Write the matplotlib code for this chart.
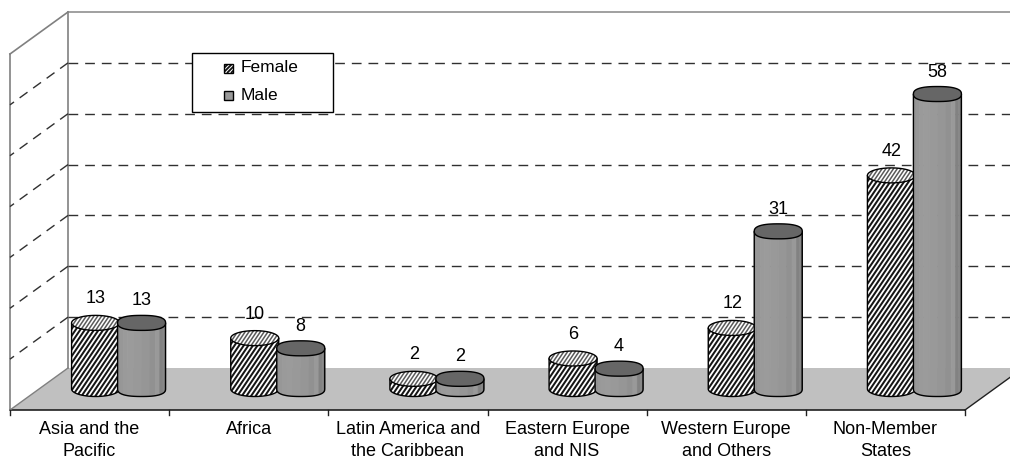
import numpy as np
import matplotlib
matplotlib.use("Agg")
import matplotlib.pyplot as plt
from matplotlib.patches import Polygon, Rectangle
from matplotlib.collections import LineCollection

plt.rcParams['font.family'] = ['Liberation Sans', 'DejaVu Sans']

categories = ["Asia and the\nPacific", "Africa", "Latin America and\nthe Caribbean",
              "Eastern Europe\nand NIS", "Western Europe\nand Others", "Non-Member\nStates"]
female = [13, 10, 2, 6, 12, 42]
male = [13, 8, 2, 4, 31, 58]
series_names = ["Female", "Male"]
y_ticks = [0, 10, 20, 30, 40, 50, 60]
y_max = 70

W, H = 1010, 462
fig = plt.figure(figsize=(W / 100, H / 100), dpi=100)
ax = fig.add_axes([0, 0, 1, 1])
ax.set_xlim(0, W)
ax.set_ylim(H, 0)
ax.axis('off')

# oblique 3-D frame (pixel space)
x0, x1 = 10, 965            # front edge of the floor
yf = 410                    # front floor line
dx, dy = 58, -42            # depth offset
yb = yf + dy                # back floor line
xb0 = x0 + dx
top_y = 12
unit = (yb - top_y) / y_max  # pixels per value unit


def vy(v, base):
    return base - v * unit


# floor
ax.add_patch(Polygon([(x0, yf), (xb0, yb), (x1 + dx, yb), (x1, yf)], closed=True,
                     facecolor='#c0c0c0', edgecolor='none', zorder=1))
ax.plot([x0, x1], [yf, yf], color='#202020', lw=1.2, zorder=2)
ax.plot([x1, x1 + dx], [yf, yb], color='#202020', lw=1.0, zorder=2)
ax.plot([x0, xb0], [yf, yb], color='#808080', lw=1.0, zorder=2)

# walls
ax.plot([xb0, xb0], [yb, top_y], color='#808080', lw=1.2, zorder=2)
ax.plot([xb0, W + 5], [top_y, top_y], color='#909090', lw=1.2, zorder=2)
ax.plot([x0, x0], [yf, top_y - dy], color='#808080', lw=1.2, zorder=2)
ax.plot([x0, xb0], [top_y - dy, top_y], color='#808080', lw=1.2, zorder=2)

# gridlines on back and side wall
for t in y_ticks[1:]:
    gy = vy(t, yb)
    ax.plot([xb0, W + 5], [gy, gy], color='#303030', lw=1.0, ls=(0, (7, 5)), zorder=2)
    ax.plot([xb0, x0], [gy, gy - dy], color='#303030', lw=1.0, ls=(0, (7, 5)), zorder=2)

# category ticks and labels
n = len(categories)
cw = (x1 - x0) / n
for i in range(n + 1):
    tx = x0 + i * cw
    ax.plot([tx, tx], [yf, yf + 5], color='#202020', lw=1.0, zorder=2)
for i, lab in enumerate(categories):
    cx = x0 + (i + 0.5) * cw
    ax.text(cx, yf + 11, lab, ha='center', va='top', fontsize=13,
            linespacing=1.4, color='black', zorder=5)

bw = 48       # cylinder width
ry = 7.5      # half height of the top ellipse
base_y = yf + dy / 2
shift = 23


def ring(cx, cy, t0, t1, num=40, p=2.0):
    t = np.linspace(t0, t1, num)
    c, s = np.cos(t), np.sin(t)
    xs = np.sign(c) * np.abs(c) ** (2 / p)
    ys = np.sign(s) * np.abs(s) ** (2 / p)
    return np.column_stack([cx + bw / 2 * xs, cy + ry * ys])


def hatch_lines(patch, xmin, xmax, ymin, ymax, step, color, lw, z, angle=56):
    # slanted stripes, clipped to the given patch
    k = 1.0 / np.tan(np.radians(angle))
    span = (ymax - ymin) * k
    starts = np.arange(xmin - span - step, xmax + step, step)
    segs = [[(s, ymax), (s + span, ymin)] for s in starts]
    lc = LineCollection(segs, colors=color, linewidths=lw, zorder=z)
    ax.add_collection(lc)
    lc.set_clip_path(patch)


def female_bar(cx, v, z):
    top = vy(v, base_y)
    body = np.vstack([[cx - bw / 2, top], ring(cx, base_y, np.pi, 0),
                      [cx + bw / 2, top]])
    bp = Polygon(body, closed=True, facecolor='white', edgecolor='none', zorder=z)
    ax.add_patch(bp)
    hatch_lines(bp, cx - bw / 2, cx + bw / 2, top - ry, base_y + ry, 4.6,
                '#151515', 1.45, z + 0.01)
    ax.add_patch(Polygon(body, closed=True, facecolor='none', edgecolor='black',
                         lw=1.0, zorder=z + 0.02))
    tp = Polygon(ring(cx, top, 0, 2 * np.pi, 60), closed=True,
                 facecolor='white', edgecolor='none', zorder=z + 0.1)
    ax.add_patch(tp)
    hatch_lines(tp, cx - bw / 2, cx + bw / 2, top - ry, top + ry, 3.8,
                '#5a5a5a', 1.1, z + 0.11)
    ax.add_patch(Polygon(ring(cx, top, 0, 2 * np.pi, 60), closed=True,
                         facecolor='none', edgecolor='black', lw=1.0, zorder=z + 0.12))
    return top


def male_bar(cx, v, z):
    top = vy(v, base_y)
    nf = 12
    ts = np.linspace(np.pi, 0, nf + 1)
    for k in range(nf):
        ta, tb = ts[k], ts[k + 1]
        pa = ring(cx, 0, ta, ta, 1, p=2.5)[0]
        pb = ring(cx, 0, tb, tb, 1, p=2.5)[0]
        tm = 0.5 * (ta + tb)
        light = np.cos(tm - 1.9)
        g = 0.50 + 0.12 * light - 0.04 * (k / nf)
        if k in (8, 10):
            g += 0.06
        g = min(max(g, 0.33), 0.68)
        quad = [(pa[0], top + pa[1]), (pb[0], top + pb[1]),
                (pb[0], base_y + pb[1]), (pa[0], base_y + pa[1])]
        ax.add_patch(Polygon(quad, closed=True, facecolor=(g, g, g),
                             edgecolor=(g, g, g), lw=0.5, zorder=z))
    outline = np.vstack([[cx - bw / 2, top], ring(cx, base_y, np.pi, 0, 40, p=2.5),
                         [cx + bw / 2, top]])
    ax.add_patch(Polygon(outline, closed=True, facecolor='none', edgecolor='black',
                         lw=1.0, zorder=z + 0.05))
    ax.add_patch(Polygon(ring(cx, top, 0, 2 * np.pi, 60, p=2.5), closed=True,
                         facecolor='#666666', edgecolor='black', lw=1.0, zorder=z + 0.1))
    return top


for i in range(n):
    c = x0 + (i + 0.5) * cw + dx / 2
    z = 3 + i
    tf = female_bar(c - shift, female[i], z)
    tm = male_bar(c + shift, male[i], z + 0.3)
    ax.text(c - shift, tf - 24, str(female[i]), ha='center', va='center',
            fontsize=13, zorder=20)
    ax.text(c + shift, tm - 22, str(male[i]), ha='center', va='center',
            fontsize=13, zorder=20)

# legend
ax.add_patch(Rectangle((192, 53), 141, 59, facecolor='white', edgecolor='black',
                       lw=1.0, zorder=30))
lp = Rectangle((224, 64), 9, 9, facecolor='white', edgecolor='none', zorder=31)
ax.add_patch(lp)
hatch_lines(lp, 224, 233, 64, 73, 4.0, '#111111', 1.3, 31.1, angle=45)
ax.add_patch(Rectangle((224, 64), 9, 9, facecolor='none', edgecolor='black',
                       lw=1.0, zorder=31.2))
ax.add_patch(Rectangle((224, 91), 9, 9, facecolor='#999999', edgecolor='black',
                       lw=1.0, zorder=31))
ax.text(241, 68, series_names[0], ha='left', va='center', fontsize=12.5, zorder=32)
ax.text(241, 95, series_names[1], ha='left', va='center', fontsize=12.5, zorder=32)

fig.savefig('out.png', dpi=100)
